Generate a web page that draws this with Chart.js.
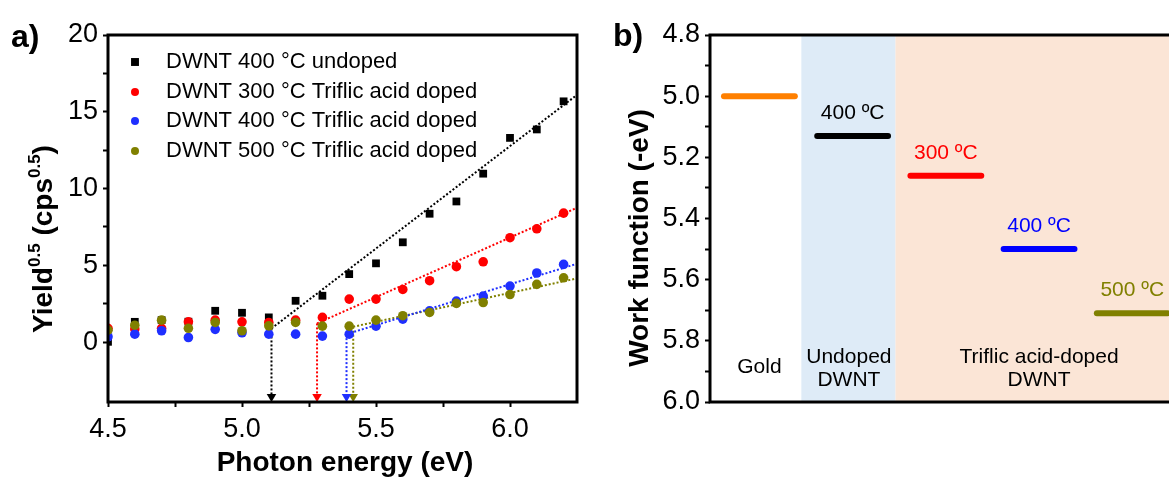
<!DOCTYPE html>
<html>
<head>
<meta charset="utf-8">
<script src="https://cdn.jsdelivr.net/npm/chart.js@4.4.1/dist/chart.umd.min.js"></script>
<style>
  html, body { margin: 0; padding: 0; background: #fff; overflow: hidden; }
  #wrapA { position: absolute; left: 0; top: 0; width: 600px; height: 479px; }
  #wrapB { position: absolute; left: 600px; top: 0; width: 680px; height: 479px; }
</style>
</head>
<body>
<div id="wrapA"><canvas id="chartA"></canvas></div>
<div id="wrapB"><canvas id="chartB"></canvas></div>
<script>
// ---- panel a: photoemission yield ----
var energy = [4.5, 4.6, 4.7, 4.8, 4.9, 5.0, 5.1, 5.2, 5.3, 5.4, 5.5, 5.6, 5.7, 5.8, 5.9, 6.0, 6.1, 6.2];
var undoped400 = [0.02, 1.32, 1.43, 1.33, 2.04, 1.91, 1.61, 2.69, 3.02, 4.43, 5.13, 6.5, 8.36, 9.16, 10.97, 13.3, 13.85, 15.68];
var doped300 = [0.9, 0.85, 0.9, 1.32, 1.43, 1.32, 1.28, 1.43, 1.61, 2.8, 2.8, 3.43, 4.0, 4.91, 5.23, 6.8, 7.38, 8.4];
var doped400 = [0.35, 0.52, 0.74, 0.3, 0.83, 0.61, 0.52, 0.52, 0.39, 0.52, 1.04, 1.5, 2.04, 2.67, 3.0, 3.65, 4.5, 5.06];
var doped500 = [0.78, 1.1, 1.43, 0.9, 1.28, 0.74, 1.06, 1.28, 1.04, 1.04, 1.43, 1.72, 1.93, 2.52, 2.58, 3.1, 3.76, 4.19];
var seriesLabels = ['DWNT 400 °C undoped', 'DWNT 300 °C Triflic acid doped',
                    'DWNT 400 °C Triflic acid doped', 'DWNT 500 °C Triflic acid doped'];

// linear fits: start at the onset, end at the right edge
var onsetEnergy = [5.11, 5.28, 5.39, 5.415];
var onsetYield = [0.89, 1.22, 0.52, 1.0];
var fitEndEnergy = 6.25;
var fitEndYield = [16.1, 8.75, 5.1, 4.15];
var arrowTipYield = -3.55;

// ---- panel b: work function levels ----
var levelPos = [0, 1, 2, 3, 4];
var workFunction = [5.00, 5.13, 5.26, 5.50, 5.71];
var levelLabels = ['', '400 ºC', '300 ºC', '400 ºC', '500 ºC'];
var regionStart = [-0.53, 0.45, 1.46];
var regionEnd = [0.45, 1.46, 5.4];
var regionNames = [['Gold'], ['Undoped', 'DWNT'], ['Triflic acid-doped', 'DWNT']];
var regionLabelPos = [0, 0.96, 3];

var FONT = '"Liberation Sans", Arial, sans-serif';
Chart.defaults.font.family = FONT;
Chart.defaults.color = '#000';

var colorsA = ['#000000', '#ff0000', '#1f2fff', '#808000'];
var stylesA = ['rect', 'circle', 'circle', 'circle'];
var levelColors = ['#ff8000', '#000000', '#ff0000', '#0000ff', '#808000'];
var regionColors = ['rgba(0,0,0,0)', '#deebf7', '#fbe5d6'];

function nearMultiple(v, step) {
  return Math.abs(v / step - Math.round(v / step)) < 1e-6;
}

var framePlugin = {
  id: 'frame',
  afterDraw: function (chart) {
    var a = chart.chartArea, ctx = chart.ctx;
    ctx.save();
    ctx.strokeStyle = '#000';
    ctx.lineWidth = 3;
    ctx.strokeRect(a.left, a.top, a.right - a.left, a.bottom - a.top);
    ctx.restore();
  }
};

// vertical title made of parts, some of them raised
function drawVerticalTitle(ctx, cx, cy, parts) {
  ctx.save();
  ctx.translate(cx, cy);
  ctx.rotate(-Math.PI / 2);
  var total = 0;
  parts.forEach(function (p) {
    ctx.font = 'bold ' + p[1] + 'px ' + FONT;
    p.w = ctx.measureText(p[0]).width;
    total += p.w;
  });
  var x = -total / 2;
  ctx.fillStyle = '#000';
  ctx.textBaseline = 'alphabetic';
  ctx.textAlign = 'left';
  parts.forEach(function (p) {
    ctx.font = 'bold ' + p[1] + 'px ' + FONT;
    ctx.fillText(p[0], x, 10 - p[2]);
    x += p.w;
  });
  ctx.restore();
}

function drawText(ctx, txt, x, y, font, color, align) {
  ctx.save();
  ctx.font = font;
  ctx.fillStyle = color || '#000';
  ctx.textAlign = align || 'center';
  ctx.textBaseline = 'middle';
  ctx.fillText(txt, x, y);
  ctx.restore();
}

var decorA = {
  id: 'decorA',
  afterDraw: function (chart) {
    var ctx = chart.ctx;
    // legend
    var rowY = [62, 92, 121, 151];
    for (var i = 0; i < 4; i++) {
      var ds = chart.data.datasets[i];
      ctx.save();
      ctx.fillStyle = ds.backgroundColor;
      Chart.helpers.drawPoint(ctx, {
        pointStyle: ds.pointStyle,
        radius: ds.pointStyle === 'rect' ? 5.6 : 4,
        borderWidth: 0, rotation: 0
      }, 135, rowY[i]);
      ctx.restore();
      drawText(ctx, ds.label, 166, rowY[i], '22px ' + FONT, '#000', 'left');
    }
    drawText(ctx, 'a)', 11, 38, 'bold 32px ' + FONT, '#000', 'left');
    drawText(ctx, 'Photon energy (eV)', 345, 463, 'bold 28px ' + FONT);
    drawVerticalTitle(ctx, 42, 239, [['Yield', 28, 0], ['0.5', 17, 12], [' (cps', 28, 0], ['0.5', 17, 12], [')', 28, 0]]);
  }
};

var datasetsA = [];
[undoped400, doped300, doped400, doped500].forEach(function (vals, i) {
  datasetsA.push({
    label: seriesLabels[i],
    data: energy.map(function (e, j) { return { x: e, y: vals[j] }; }),
    showLine: false,
    pointStyle: stylesA[i],
    pointRadius: stylesA[i] === 'rect' ? 5.5 : 4.8,
    pointBorderWidth: 0,
    backgroundColor: colorsA[i],
    borderColor: colorsA[i],
    order: 4 - i
  });
});
for (var k = 0; k < 4; k++) {
  datasetsA.push({
    label: 'fit',
    data: [{ x: onsetEnergy[k], y: onsetYield[k] }, { x: fitEndEnergy, y: fitEndYield[k] }],
    showLine: true,
    borderColor: colorsA[k],
    borderWidth: 2,
    borderDash: [2, 2],
    pointRadius: 0,
    order: 10
  });
  datasetsA.push({
    label: 'onset',
    data: [{ x: onsetEnergy[k], y: onsetYield[k] }, { x: onsetEnergy[k], y: arrowTipYield }],
    showLine: true,
    borderColor: colorsA[k],
    backgroundColor: colorsA[k],
    borderWidth: 2,
    borderDash: [2, 2],
    pointStyle: 'triangle',
    rotation: 180,
    pointRadius: [0, 5.5],
    pointBorderWidth: 0,
    order: 10
  });
}

var chartA = new Chart(document.getElementById('chartA').getContext('2d'), {
  type: 'scatter',
  data: { datasets: datasetsA },
  options: {
    responsive: true,
    maintainAspectRatio: false,
    animation: false,
    events: [],
    layout: { padding: { top: 35, right: 23, left: 0, bottom: 0 } },
    plugins: { legend: { display: false }, tooltip: { enabled: false } },
    scales: {
      x: {
        type: 'linear', min: 4.5, max: 6.25,
        afterFit: function (s) { s.height = 77; },
        afterBuildTicks: function (s) {
          s.ticks = s.ticks.filter(function (t) { return nearMultiple(t.value, 0.25) && t.value < 6.24; });
        },
        ticks: {
          stepSize: 0.25, padding: 6, autoSkip: false, maxRotation: 0,
          font: { size: 27 },
          callback: function (v) { return nearMultiple(v, 0.5) ? v.toFixed(1) : ''; }
        },
        grid: { drawOnChartArea: false, drawTicks: true, tickLength: 5, tickWidth: 2, tickColor: '#000' },
        border: { display: false }
      },
      y: {
        type: 'linear', min: -3.9, max: 20,
        afterFit: function (s) { s.width = 108; },
        afterBuildTicks: function (s) {
          s.ticks = s.ticks.filter(function (t) { return nearMultiple(t.value, 2.5); });
        },
        ticks: {
          stepSize: 2.5, padding: 5, autoSkip: false,
          font: { size: 27 },
          callback: function (v) { return nearMultiple(v, 5) ? String(Math.round(v)) : ''; }
        },
        grid: { drawOnChartArea: false, drawTicks: true, tickLength: 5, tickWidth: 2, tickColor: '#000' },
        border: { display: false }
      }
    }
  },
  plugins: [framePlugin, decorA]
});

// ---- panel b ----
var regionsB = {
  id: 'regionsB',
  beforeDatasetsDraw: function (chart) {
    var ctx = chart.ctx, a = chart.chartArea, xs = chart.scales.x;
    ctx.save();
    for (var i = 0; i < regionStart.length; i++) {
      var x0 = Math.max(a.left, xs.getPixelForValue(regionStart[i]));
      var x1 = Math.min(a.right, xs.getPixelForValue(regionEnd[i]));
      ctx.fillStyle = regionColors[i];
      ctx.fillRect(x0, a.top, x1 - x0, a.bottom - a.top);
    }
    ctx.restore();
  },
  afterDraw: function (chart) {
    var ctx = chart.ctx, xs = chart.scales.x, ys = chart.scales.y;
    for (var i = 0; i < levelPos.length; i++) {
      if (!levelLabels[i]) continue;
      drawText(ctx, levelLabels[i], xs.getPixelForValue(levelPos[i]),
        ys.getPixelForValue(workFunction[i] - 0.075), '21px ' + FONT, levelColors[i]);
    }
    for (var r = 0; r < regionNames.length; r++) {
      var lines = regionNames[r];
      var x = xs.getPixelForValue(regionLabelPos[r]);
      if (lines.length === 1) {
        drawText(ctx, lines[0], x, ys.getPixelForValue(5.885), '21px ' + FONT);
      } else {
        drawText(ctx, lines[0], x, ys.getPixelForValue(5.852), '21px ' + FONT);
        drawText(ctx, lines[1], x, ys.getPixelForValue(5.93), '21px ' + FONT);
      }
    }
    drawText(ctx, 'b)', 13, 37, 'bold 32px ' + FONT, '#000', 'left');
    drawVerticalTitle(ctx, 38, 238, [['Work function (-eV)', 28, 0]]);
  }
};

var datasetsB = workFunction.map(function (wf, i) {
  return {
    label: levelLabels[i],
    data: [{ x: levelPos[i] - 0.38, y: wf }, { x: levelPos[i] + 0.38, y: wf }],
    showLine: true,
    borderColor: levelColors[i],
    borderWidth: 6,
    borderCapStyle: 'round',
    pointRadius: 0
  };
});

var chartB = new Chart(document.getElementById('chartB').getContext('2d'), {
  type: 'scatter',
  data: { datasets: datasetsB },
  options: {
    responsive: true,
    maintainAspectRatio: false,
    animation: false,
    events: [],
    layout: { padding: { top: 35, right: 20, left: 0, bottom: 77 } },
    plugins: { legend: { display: false }, tooltip: { enabled: false } },
    scales: {
      x: { type: 'linear', min: -0.53, max: 5.37, display: false },
      y: {
        type: 'linear', min: 4.8, max: 6.0, reverse: true,
        afterFit: function (s) { s.width = 110; },
        ticks: {
          stepSize: 0.1, padding: 5, autoSkip: false,
          font: { size: 27 },
          callback: function (v) {
            var t = Math.round(v * 10);
            return t % 2 === 0 ? (t / 10).toFixed(1) : '';
          }
        },
        grid: { drawOnChartArea: false, drawTicks: true, tickLength: 5, tickWidth: 2, tickColor: '#000' },
        border: { display: false }
      }
    }
  },
  plugins: [regionsB, framePlugin]
});
</script>
</body>
</html>
